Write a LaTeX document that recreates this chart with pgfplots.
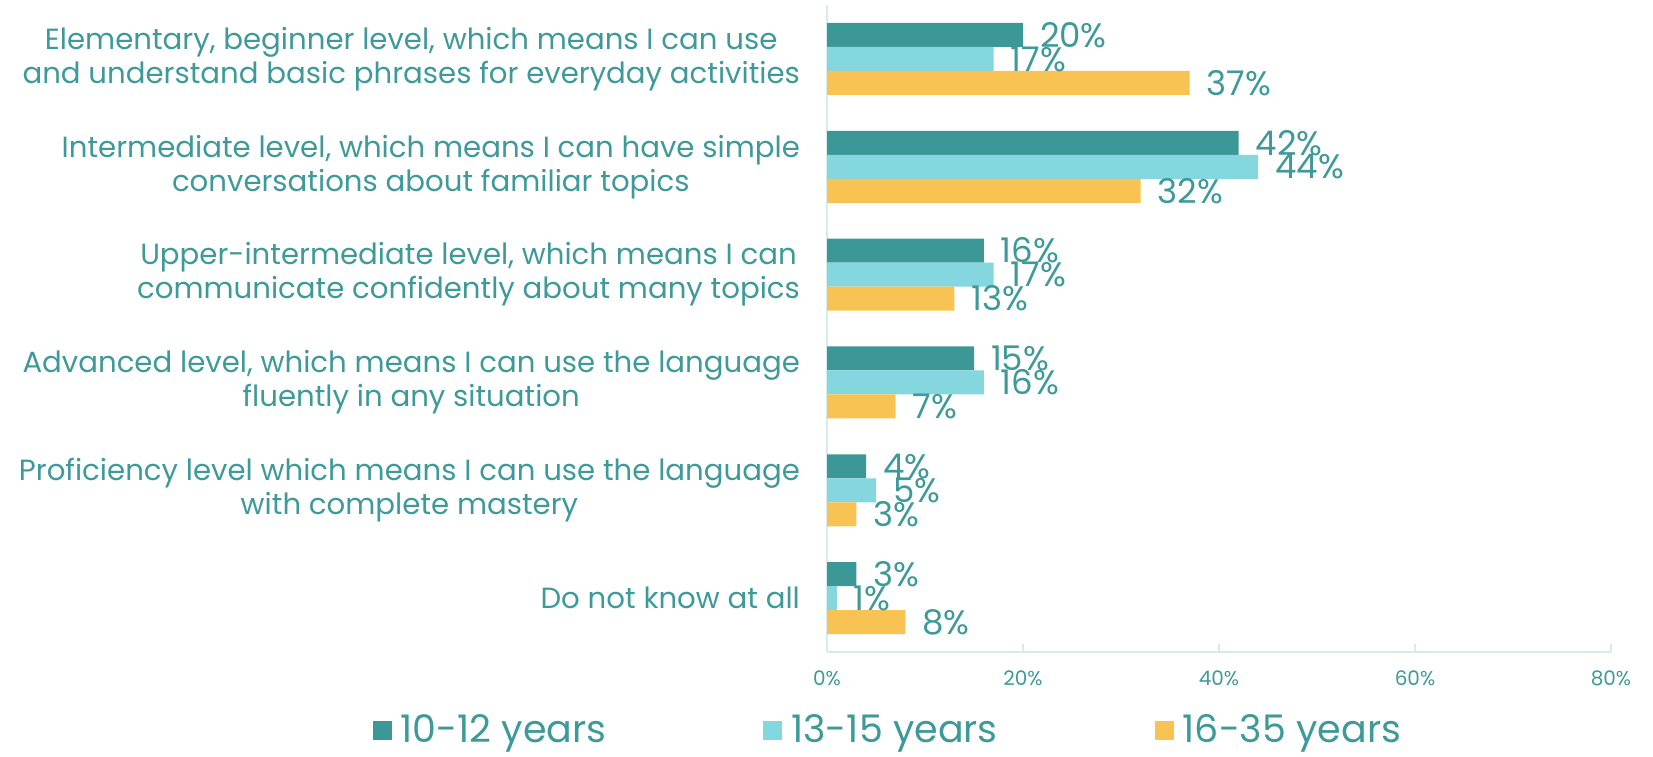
\documentclass[border=0pt]{standalone}
\usepackage{fontspec}
\setmainfont{Poppins}
\usepackage{pgfplots}
\pgfplotsset{compat=1.18}
\definecolor{cA}{HTML}{3B9897}
\definecolor{cB}{HTML}{84D7DF}
\definecolor{cC}{HTML}{F8C352}
\definecolor{txt}{HTML}{3E9A99}
\definecolor{axl}{HTML}{D6EBEB}
\begin{document}
\begin{tikzpicture}
\useasboundingbox (0,0) rectangle (826.5pt,378pt);
\begin{axis}[
  at={(413.5pt,52pt)}, anchor=south west,
  scale only axis, width=392pt, height=323.5pt,
  xbar, bar width=12pt,
  xmin=0, xmax=80, ymin=-0.5, ymax=5.5,
  axis x line*=bottom, axis y line*=left,
  axis line style={draw=axl, line width=1pt},
  xtick={0,20,40,60,80},
  xticklabel={\pgfmathprintnumber{\tick}\%},
  /pgf/number format/assume math mode=true,
  xticklabel style={font=\fontsize{10}{10}\selectfont, text=txt, yshift=-6pt},
  xtick style={draw=axl, line width=0.8pt},
  tick align=inside, major tick length=4pt,
  ytick={0,1,2,3,4,5},
  yticklabels={
    {Do not know at all},
    {Proficiency level which means I can use the language\\with complete mastery},
    {Advanced level, which means I can use the language\\fluently in any situation},
    {Upper-intermediate level, which means I can\\communicate confidently about many topics},
    {Intermediate level, which means I can have simple\\conversations about familiar topics},
    {Elementary, beginner level, which means I can use\\and understand basic phrases for everyday activities}},
  yticklabel style={font=\fontsize{14.6}{17}\selectfont, text=txt, align=center, xshift=-10pt},
  ytick style={draw=none},
  point meta=x,
  nodes near coords={\pgfmathprintnumber{\pgfplotspointmeta}\%},
  nodes near coords style={font=\fontsize{17}{17}\selectfont, text=txt, anchor=west, xshift=5pt},
  legend columns=3,
  legend style={draw=none, at={(0.077,-0.121)}, anchor=center, inner sep=0pt,
    font=\fontsize{19}{19}\selectfont, text=txt,
    nodes={inner sep=0.5pt},
    /tikz/every odd column/.append style={column sep=4pt},
    /tikz/every even column/.append style={column sep=78pt}},
  legend image code/.code={\fill[#1,draw=none] (0pt,-4.75pt) rectangle (9.5pt,4.75pt);},
]
\addplot[fill=cA, draw=none, bar shift=12pt] coordinates {(20,5) (42,4) (16,3) (15,2) (4,1) (3,0)};
\addplot[fill=cB, draw=none, bar shift=0pt] coordinates {(17,5) (44,4) (17,3) (16,2) (5,1) (1,0)};
\addplot[fill=cC, draw=none, bar shift=-12pt] coordinates {(37,5) (32,4) (13,3) (7,2) (3,1) (8,0)};
\legend{10-12 years, 13-15 years, 16-35 years}
\end{axis}
\end{tikzpicture}
\end{document}
